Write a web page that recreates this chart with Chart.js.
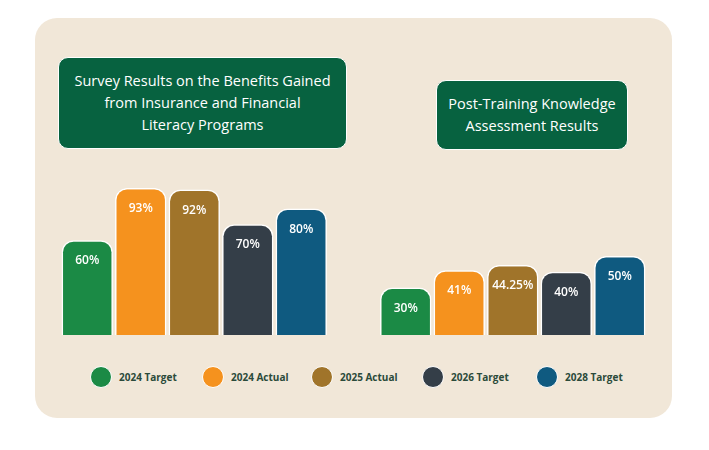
<!DOCTYPE html>
<html><head><meta charset="utf-8">
<script src="https://cdn.jsdelivr.net/npm/chart.js@4"></script>
<style>
body{margin:0;width:709px;height:450px;background:#fff;font-family:"Open Sans",sans-serif;position:relative;overflow:hidden}
#panel{position:absolute;left:35px;top:18px;width:637px;height:400px;background:#f1e7d8;border-radius:22px}
.title{position:absolute;background:#076240;color:#fff;border-radius:10px;text-align:center;font-size:14.5px;line-height:22px;display:flex;align-items:center;justify-content:center;border:1px solid #fff}
#wrap{position:absolute;left:35px;top:150px;width:637px;height:185px}
#leg{position:absolute;top:366px;left:0;width:709px;height:22px}
.li{position:absolute;display:flex;align-items:center;font-size:10px;font-weight:bold;color:#2b4a3a}
.dot{width:20px;height:20px;border-radius:50%;margin-right:7px;border:1px solid #fff}
</style></head><body>
<div id="panel"></div>
<div class="title" style="left:58px;top:57px;width:287px;height:90px">Survey Results on the Benefits Gained<br>from Insurance and Financial<br>Literacy Programs</div>
<div class="title" style="left:436px;top:80px;width:190px;height:68px">Post-Training Knowledge<br>Assessment Results</div>
<div id="wrap"><canvas id="c"></canvas></div>
<div id="leg"></div>
<script>
const groups=["Survey Results","Post-Training Assessment"];
const seriesNames=["2024 Target","2024 Actual","2025 Actual","2026 Target","2028 Target"];
const target2024=[60,30];
const actual2024=[93,41];
const actual2025=[92,44.25];
const target2026=[70,40];
const target2028=[80,50];
const colors=["#1b8a45","#f5921e","#a0742a","#343e48","#0f5a80"];
const vals=[target2024,actual2024,actual2025,target2026,target2028];
const legX=[90,202,311,422,536];
const leg=document.getElementById("leg");
seriesNames.forEach((n,i)=>{const d=document.createElement("div");d.className="li";d.style.left=legX[i]+"px";d.innerHTML='<span class="dot" style="background:'+colors[i]+'"></span>'+n;leg.appendChild(d);});
const labelPlugin={id:"lbl",afterDatasetsDraw(ch){const c=ch.ctx;c.save();c.fillStyle="#fff";c.font="600 12px 'Open Sans'";c.textAlign="center";
ch.data.datasets.forEach((d,i)=>{ch.getDatasetMeta(i).data.forEach((b,j)=>{c.fillText(d.data[j]+"%",b.x,b.y+24);});});c.restore();}};
new Chart(document.getElementById("c"),{type:"bar",
data:{labels:groups,datasets:seriesNames.map((n,i)=>({label:n,data:vals[i],backgroundColor:colors[i],borderColor:"#fff",borderWidth:1.5,borderSkipped:"bottom",borderRadius:{topLeft:12,topRight:12},barPercentage:0.96,categoryPercentage:0.84}))},
options:{responsive:true,maintainAspectRatio:false,animation:false,
layout:{padding:0},
scales:{x:{display:false},y:{display:false,min:0,max:117}},
plugins:{tooltip:{enabled:false},legend:{display:false}}},
plugins:[labelPlugin]});
</script></body></html>
